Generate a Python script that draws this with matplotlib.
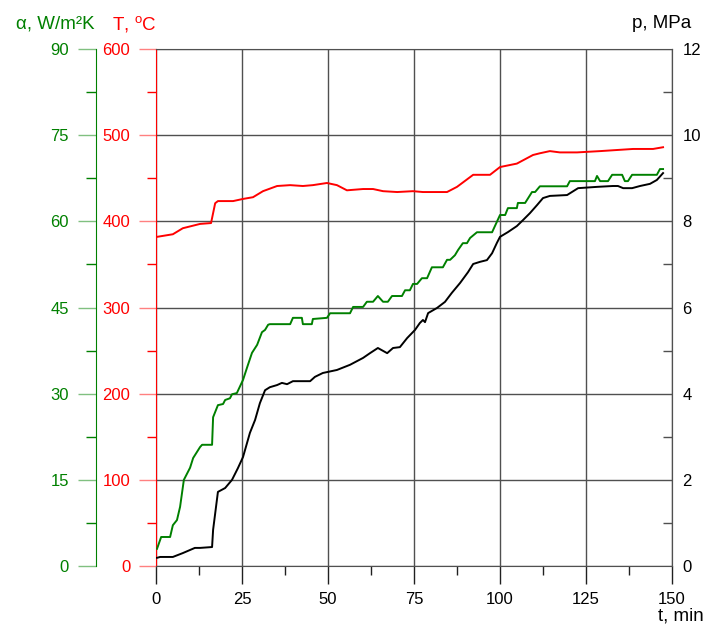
import matplotlib.pyplot as plt
from matplotlib.ticker import MultipleLocator

plt.rcParams['font.family'] = ['Liberation Sans', 'DejaVu Sans']
plt.rcParams['mathtext.fontset'] = 'custom'
plt.rcParams['mathtext.rm'] = 'Liberation Sans'

# temperature T, degC
t_T = [0.3, 4.9, 7.8, 12.8, 16.0, 17.2, 18.0, 22.4, 25.3, 28.2, 31.1, 35.2, 39.0,
       42.7, 45.6, 49.7, 52.6, 55.5, 60.2, 63.1, 66.0, 70.1, 74.7, 77.6, 84.6,
       87.5, 92.2, 97.1, 100.0, 104.9, 109.6, 111.6, 114.5, 117.4, 122.4, 129.1,
       138.7, 144.5, 147.4]
T = [382, 385, 392, 397, 398, 421, 423.5, 423.5, 426, 428, 435, 441, 442,
     441, 442, 444.5, 442, 436, 437.5, 437.5, 435, 434, 435, 434, 434,
     440, 454, 454, 463, 467, 477, 479, 481.5, 480, 480, 481.5,
     484, 484, 486]

# heat transfer coefficient alpha, W/m2K
t_a = [0.3, 1.5, 4.1, 4.9, 6.1, 7.0, 8.1, 9.9, 10.8, 12.8, 13.4, 16.3, 16.6, 18.0,
       19.5, 20.1, 21.5, 22.1, 23.5, 25.3, 26.5, 27.9, 29.4, 30.8, 31.7, 32.6,
       33.1, 39.0, 39.8, 42.4, 42.7, 45.3, 45.6, 49.7, 50.6, 56.4, 57.3, 60.2,
       61.3, 63.1, 64.5, 66.0, 67.4, 68.6, 71.5, 72.4, 73.8, 74.7, 75.9, 77.3,
       78.8, 80.2, 83.4, 84.6, 85.5, 86.9, 87.8, 89.2, 90.4, 91.3, 93.3, 97.7,
       100.0, 101.5, 102.3, 104.9, 105.2, 107.3, 109.3, 110.2, 111.6, 119.5,
       120.3, 127.6, 128.2, 129.1, 131.4, 132.6, 135.5, 136.3, 137.2, 138.4,
       145.6, 146.5, 147.4]
alpha = [3.0, 5.05, 5.05, 7.1, 8.0, 10.3, 15.0, 17.1, 18.8, 20.7, 21.1, 21.1, 25.9, 28.0,
         28.2, 28.9, 29.2, 29.9, 30.1, 32.4, 34.6, 37.1, 38.5, 40.7, 41.1, 42.0,
         42.1, 42.1, 43.2, 43.2, 42.1, 42.1, 43.0, 43.2, 44.0, 44.0, 45.1, 45.1,
         46.0, 46.0, 47.0, 46.0, 46.0, 47.0, 47.0, 48.0, 48.0, 49.1, 49.1, 50.1,
         50.1, 52.0, 52.0, 53.3, 53.3, 54.1, 55.0, 56.2, 56.2, 57.1, 58.1, 58.1,
         61.1, 61.1, 62.3, 62.3, 63.2, 63.2, 65.1, 65.1, 66.1, 66.1,
         67.0, 67.0, 67.9, 67.0, 67.0, 68.1, 68.1, 67.0, 67.0, 68.1,
         68.1, 69.1, 69.1]

# pressure p, MPa
t_p = [0.3, 1.2, 4.9, 7.8, 11.3, 12.8, 16.3, 16.6, 18.0, 20.1, 22.1, 23.8, 25.3,
       27.3, 28.8, 30.2, 31.7, 33.1, 35.2, 36.6, 38.1, 39.8, 44.8, 46.2, 48.5,
       52.6, 56.4, 60.2, 62.2, 64.5, 67.2, 68.9, 70.9, 73.0, 75.3, 76.7, 77.6,
       78.2, 79.1, 81.7, 84.0, 86.0, 88.4, 90.7, 92.2, 94.2, 96.2, 97.7, 99.1,
       100.0, 102.3, 104.9, 106.7, 108.7, 110.8, 112.5, 114.5, 119.5, 120.9,
       122.7, 128.2, 132.8, 134.3, 135.8, 138.4, 140.7, 143.6, 145.6, 147.4]
p = [0.19, 0.21, 0.21, 0.30, 0.42, 0.42, 0.44, 0.84, 1.72, 1.81, 2.00, 2.27, 2.53,
     3.09, 3.39, 3.78, 4.08, 4.15, 4.20, 4.25, 4.22, 4.29, 4.29, 4.39, 4.48,
     4.55, 4.67, 4.83, 4.94, 5.06, 4.94, 5.06, 5.08, 5.29, 5.48, 5.64, 5.71,
     5.66, 5.87, 5.99, 6.13, 6.34, 6.57, 6.82, 7.01, 7.06, 7.10, 7.26, 7.50,
     7.64, 7.75, 7.89, 8.03, 8.19, 8.38, 8.54, 8.59, 8.61, 8.68,
     8.77, 8.80, 8.82, 8.82, 8.77, 8.77, 8.82, 8.87, 8.96, 9.12]

RED = '#ff0000'
GREEN = '#008000'
GRID = '#505050'
FS = 12
CAP_FS = 13.5
LW = 1.4

fig = plt.figure(figsize=(7.05, 6.33), dpi=100)
ax = fig.add_axes([156 / 705, 1 - 566 / 633, 516 / 705, 517 / 633])

# main axes: temperature on the left spine
ax.set_xlim(0, 150)
ax.set_ylim(0, 600)
ax.xaxis.set_major_locator(MultipleLocator(25))
ax.xaxis.set_minor_locator(MultipleLocator(12.5))
ax.yaxis.set_major_locator(MultipleLocator(100))
ax.yaxis.set_minor_locator(MultipleLocator(50))
ax.grid(True, which='major', color=GRID, linewidth=1)
ax.tick_params(axis='y', which='major', direction='out', length=12, width=1,
               color='#ff8080', labelcolor=RED, labelsize=FS, pad=6.5)
ax.tick_params(axis='y', which='minor', direction='out', length=6.5, width=1, color=RED)
ax.tick_params(axis='x', which='major', direction='out', length=13, width=1,
               color='#202020', labelsize=FS, pad=6)
ax.tick_params(axis='x', which='minor', direction='out', length=6.5, width=1, color='#202020')
ax.spines['left'].set_color(RED)
for s in ('top', 'right', 'bottom'):
    ax.spines[s].set_color(GRID)
ax.plot(t_T, T, color=RED, linewidth=LW)

# alpha axis, shifted to the left of the temperature axis
ax_a = ax.twinx()
ax_a.yaxis.tick_left()
ax_a.spines['left'].set_position(('axes', -60 / 516))
ax_a.spines['left'].set_color(GREEN)
for s in ('top', 'right', 'bottom'):
    ax_a.spines[s].set_visible(False)
ax_a.set_ylim(0, 90)
ax_a.yaxis.set_major_locator(MultipleLocator(15))
ax_a.yaxis.set_minor_locator(MultipleLocator(7.5))
ax_a.tick_params(axis='y', which='major', direction='out', length=13, width=1,
                 color='#80c080', labelcolor=GREEN, labelsize=FS, pad=6.5)
ax_a.tick_params(axis='y', which='minor', direction='out', length=7, width=1, color=GREEN)
ax_a.plot(t_a, alpha, color=GREEN, linewidth=LW)

# pressure axis on the right
ax_p = ax.twinx()
ax_p.set_ylim(0, 12)
ax_p.yaxis.set_major_locator(MultipleLocator(2))
ax_p.yaxis.set_minor_locator(MultipleLocator(1))
ax_p.tick_params(axis='y', which='major', direction='in', length=0, labelsize=FS, pad=7.5)
ax_p.tick_params(axis='y', which='minor', direction='in', length=6.5, width=1, color=GRID)
for s in ('top', 'left', 'bottom'):
    ax_p.spines[s].set_visible(False)
ax_p.spines['right'].set_color(GRID)
ax_p.plot(t_p, p, color='black', linewidth=LW)

# axis captions
fig.text(16 / 705, 1 - 24 / 633, 'α, W/m²K', color=GREEN, fontsize=CAP_FS, va='center', ha='left')
fig.text(112 / 705, 1 - 24 / 633, 'T, $\\mathregular{^{o}}$C', color=RED, fontsize=CAP_FS,
         va='center', ha='left')
fig.text(632 / 705, 1 - 24 / 633, 'p, MPa', color='black', fontsize=CAP_FS, va='center', ha='left')
fig.text(658 / 705, 1 - 616 / 633, 't, min', color='black', fontsize=CAP_FS, va='center', ha='left')

fig.savefig('out.png', dpi=100)
